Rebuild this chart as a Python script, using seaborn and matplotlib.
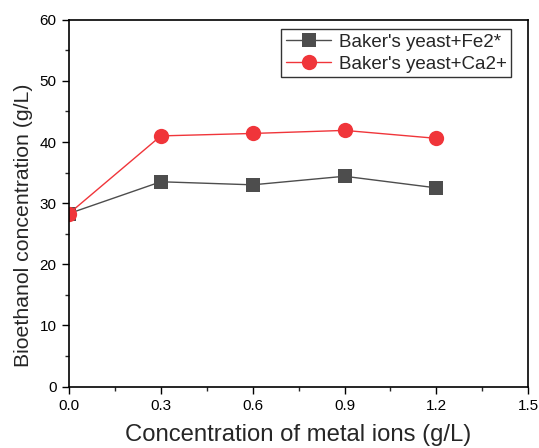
import matplotlib
matplotlib.use("Agg")
import matplotlib.pyplot as plt
import seaborn as sns
import pandas as pd
from matplotlib.ticker import MultipleLocator, AutoMinorLocator, FormatStrFormatter

conc = [0.0, 0.3, 0.6, 0.9, 1.2]
fe_values = [28.3, 33.5, 33.0, 34.4, 32.5]
ca_values = [28.3, 41.0, 41.4, 41.9, 40.6]
series_names = ["Baker's yeast+Fe2*", "Baker's yeast+Ca2+"]

df = pd.DataFrame({
    "x": conc * 2,
    "y": fe_values + ca_values,
    "series": [series_names[0]] * len(conc) + [series_names[1]] * len(conc),
})

sns.set_style("ticks")
plt.rcParams["font.family"] = ["Liberation Sans", "DejaVu Sans"]

fig = plt.figure(figsize=(5.39, 4.48), dpi=100)
ax = fig.add_axes([0.128, 0.137, 0.852, 0.819])

palette = {series_names[0]: "#4d4d4d", series_names[1]: "#f0353a"}
markers = {series_names[0]: "s", series_names[1]: "o"}
sizes = {series_names[0]: 9.5, series_names[1]: 11}
for name in series_names:
    sub = df[df["series"] == name]
    sns.lineplot(data=sub, x="x", y="y", ax=ax, color=palette[name],
                 marker=markers[name], markersize=sizes[name],
                 markeredgewidth=0, linewidth=1, label=name)

ax.set_xlim(0, 1.5)
ax.set_ylim(0, 60)
ax.xaxis.set_major_locator(MultipleLocator(0.3))
ax.xaxis.set_minor_locator(AutoMinorLocator(2))
ax.yaxis.set_major_locator(MultipleLocator(10))
ax.yaxis.set_minor_locator(AutoMinorLocator(2))
ax.xaxis.set_major_formatter(FormatStrFormatter("%.1f"))
ax.tick_params(which="major", direction="out", length=5, width=1, labelsize=11, colors="black", pad=4)
ax.tick_params(which="minor", direction="out", length=2.8, width=1)
for s in ax.spines.values():
    s.set_linewidth(1.2)
    s.set_color("black")

ax.set_xlabel("Concentration of metal ions (g/L)", fontsize=17.2, labelpad=7.5)
ax.set_ylabel("Bioethanol concentration (g/L)", fontsize=15.3)
ax.yaxis.set_label_coords(-0.078, 0.44)

leg = ax.legend(loc="upper right", fontsize=13.5, frameon=True, fancybox=False,
                edgecolor="black", borderpad=0.25, handlelength=2.4, handletextpad=0.4,
                labelspacing=0.25, borderaxespad=0, bbox_to_anchor=(0.963, 0.975))
leg.get_frame().set_linewidth(1)

fig.savefig("out.png", dpi=100)
